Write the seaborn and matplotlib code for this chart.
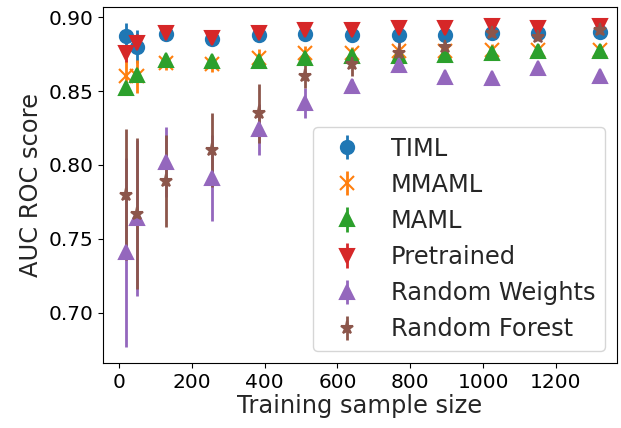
import matplotlib
matplotlib.use("Agg")
import matplotlib.pyplot as plt
import seaborn as sns

sample_sizes = [20, 50, 128, 256, 384, 512, 640, 768, 896, 1024, 1152, 1320]

timl = [0.887, 0.880, 0.8886, 0.885, 0.8877, 0.8886, 0.888, 0.888, 0.888, 0.8893, 0.8893, 0.890]
timl_err = [0.009, 0.011, 0.002, 0.002, 0.002, 0.002, 0.002, 0.002, 0.002, 0.002, 0.002, 0.002]

mmaml = [0.860, 0.860, 0.869, 0.868, 0.8725, 0.8757, 0.8757, 0.8768, 0.8768, 0.878, 0.878, 0.878]
mmaml_err = [0.011, 0.011, 0.005, 0.005, 0.006, 0.005, 0.004, 0.004, 0.004, 0.004, 0.004, 0.004]

maml = [0.852, 0.861, 0.871, 0.8705, 0.8705, 0.8723, 0.8734, 0.874, 0.8746, 0.8757, 0.8768, 0.8768]
maml_err = [0.003, 0.003, 0.003, 0.003, 0.003, 0.003, 0.003, 0.003, 0.003, 0.003, 0.003, 0.003]

pretrained = [0.8755, 0.8825, 0.889, 0.886, 0.889, 0.8915, 0.8915, 0.8927, 0.8927, 0.8938, 0.8927, 0.8942]
pretrained_err = [0.006, 0.006, 0.001, 0.001, 0.001, 0.001, 0.001, 0.001, 0.001, 0.001, 0.001, 0.001]

rand_weights = [0.741, 0.764, 0.802, 0.791, 0.824, 0.842, 0.8535, 0.8678, 0.8594, 0.8587, 0.8655, 0.860]
rand_weights_err = [0.064, 0.053, 0.024, 0.029, 0.017, 0.010, 0.005, 0.003, 0.002, 0.002, 0.002, 0.002]

rand_forest = [0.780, 0.767, 0.789, 0.810, 0.835, 0.860, 0.8685, 0.876, 0.880, 0.8893, 0.8866, 0.8915]
rand_forest_err = [0.044, 0.051, 0.031, 0.025, 0.020, 0.008, 0.008, 0.008, 0.003, 0.002, 0.002, 0.002]

series = [
    ("TIML", timl, timl_err, "o"),
    ("MMAML", mmaml, mmaml_err, "x"),
    ("MAML", maml, maml_err, "^"),
    ("Pretrained", pretrained, pretrained_err, "v"),
    ("Random Weights", rand_weights, rand_weights_err, "^"),
    ("Random Forest", rand_forest, rand_forest_err, "*"),
]

sns.set_style("ticks")
palette = sns.color_palette("tab10")

fig, ax = plt.subplots(figsize=(6.21, 4.28), dpi=100)
for i, (name, vals, errs, mk) in enumerate(series):
    ax.errorbar(sample_sizes, vals, yerr=errs, fmt=mk, color=palette[i],
                markersize=9.5, elinewidth=2, mew=1.5, label=name)

for sp in ax.spines.values():
    sp.set_color("black")
ax.tick_params(axis="both", labelsize=14.5, colors="black")
ax.set_xticks([0, 200, 400, 600, 800, 1000, 1200])
ax.set_xlim(-44, 1368)
ax.set_ylim(0.666, 0.907)
ax.set_xlabel("Training sample size", fontsize=17.4, labelpad=2)
ax.set_ylabel("AUC ROC score", fontsize=17.4)
ax.legend(loc="lower right", fontsize=17.4)
plt.subplots_adjust(left=0.166, right=0.9936, top=0.984, bottom=0.152)
plt.savefig("out.png", dpi=100)
